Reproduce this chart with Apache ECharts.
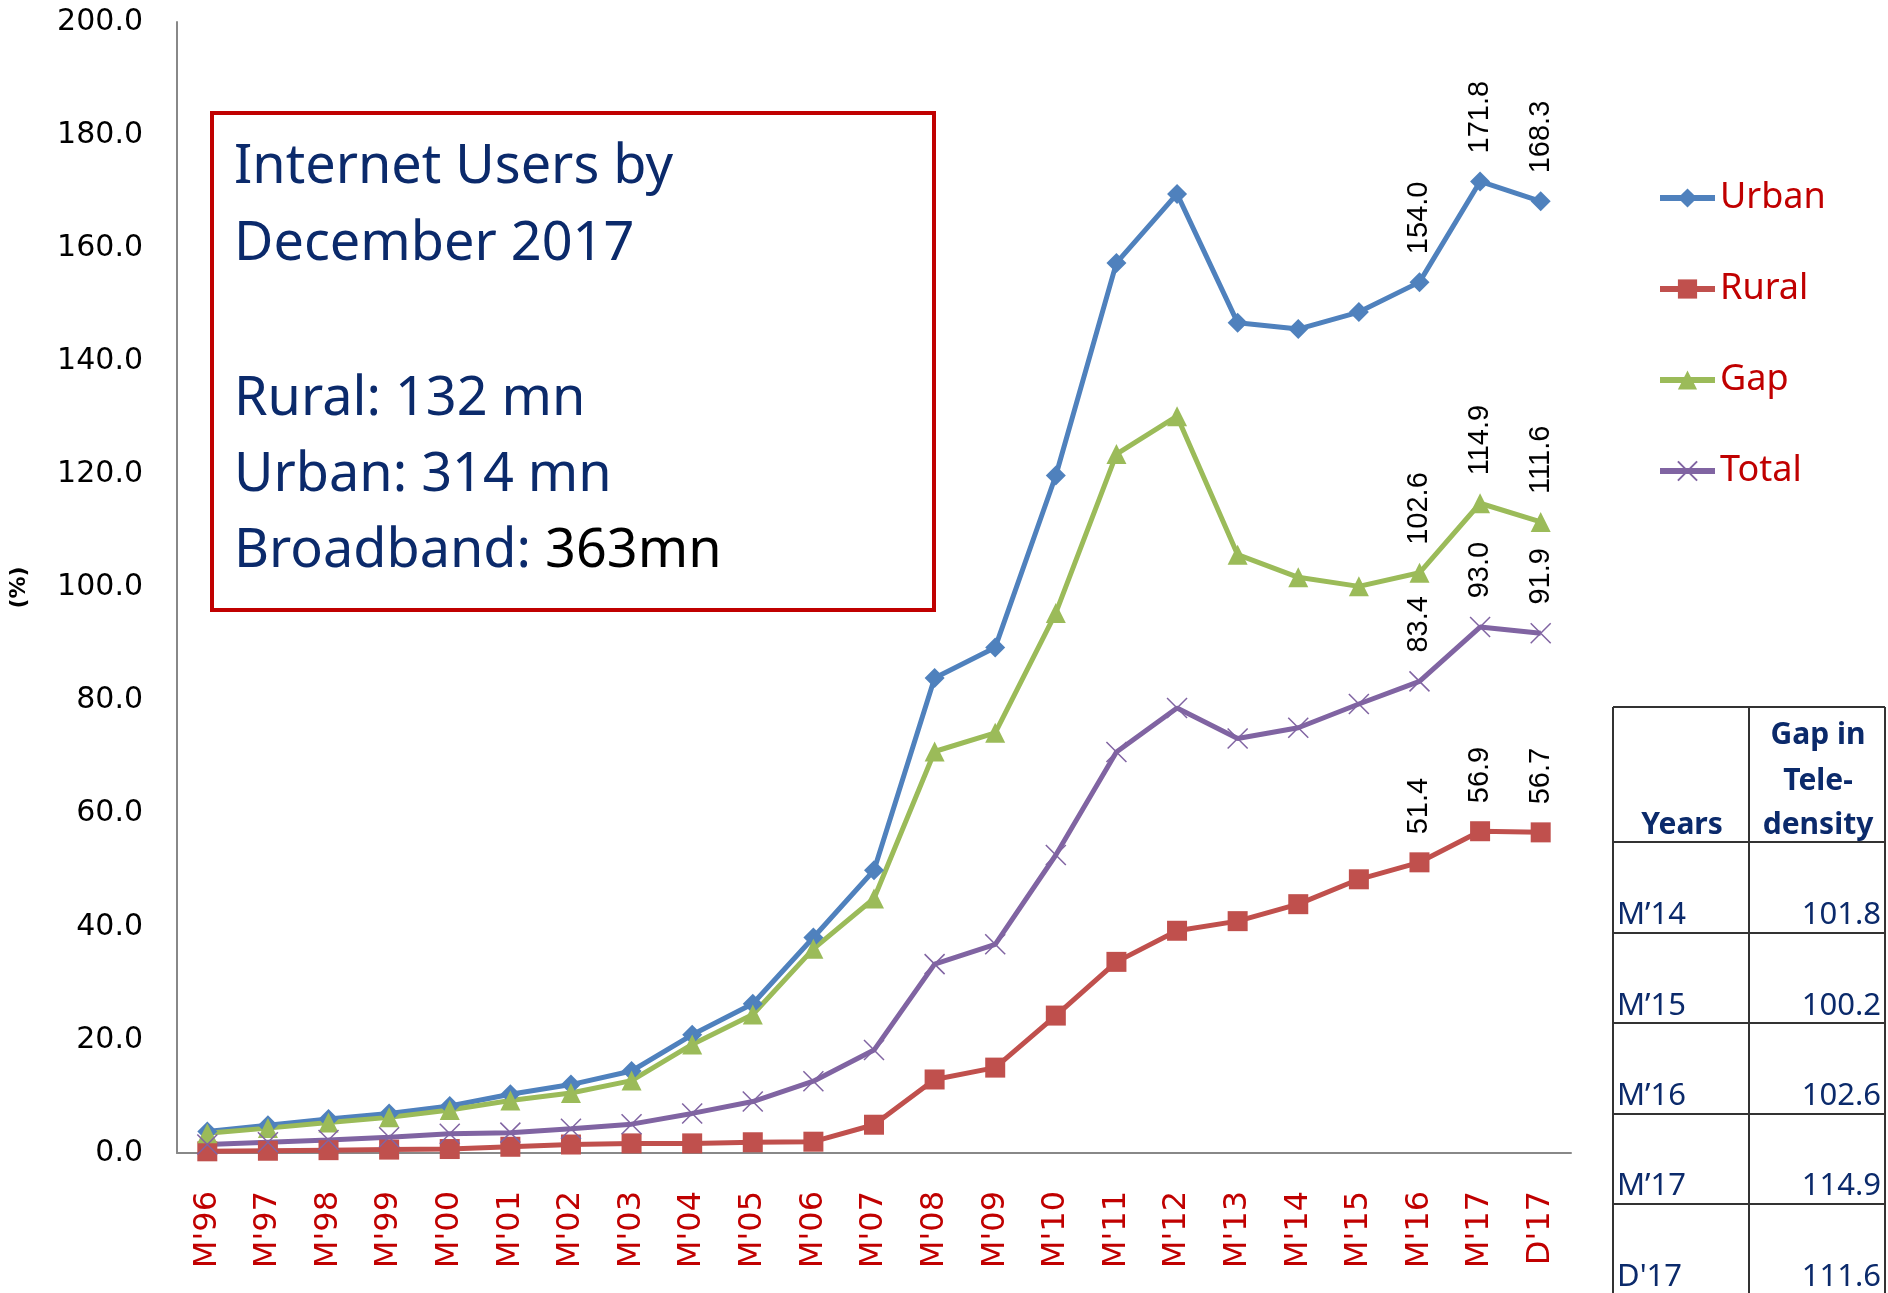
<!DOCTYPE html>
<html><head><meta charset="utf-8">
<script src="https://cdn.jsdelivr.net/npm/echarts@6/dist/echarts.min.js"></script>
<style>html,body{margin:0;padding:0;background:#fff}#c{width:1888px;height:1293px}</style>
</head><body><div id="c"></div>
<script>
const categories = ["M'96","M'97","M'98","M'99","M'00","M'01","M'02","M'03","M'04","M'05","M'06","M'07","M'08","M'09","M'10","M'11","M'12","M'13","M'14","M'15","M'16","M'17","D'17"];
const urban = [3.8,4.9,6.0,7.0,8.3,10.4,12.1,14.5,20.9,26.4,38.1,50.0,84.0,89.4,119.8,157.4,169.6,146.8,145.7,148.7,154.0,171.8,168.3];
const rural = [0.3,0.4,0.5,0.6,0.7,1.1,1.5,1.7,1.7,1.9,2.0,5.0,13.0,15.1,24.3,33.8,39.3,41.0,44.0,48.4,51.4,56.9,56.7];
const gap = [3.5,4.4,5.4,6.3,7.6,9.3,10.6,12.8,19.2,24.5,36.1,45.0,71.0,74.3,95.5,123.6,130.3,105.8,101.8,100.2,102.6,114.9,111.6];
const total = [1.5,1.9,2.3,2.8,3.4,3.6,4.3,5.1,7.0,9.1,12.7,18.2,33.4,36.9,52.7,70.9,78.7,73.3,75.2,79.4,83.4,93.0,91.9];
const tableYears = ["M\u201914","M\u201915","M\u201916","M\u201917","D'17"];
const tableGap = ["101.8","100.2","102.6","114.9","111.6"];
const boxLines = ["Internet Users by","December 2017","Rural: 132 mn","Urban: 314 mn"];

const labelFrom = 20;
function withLabels(arr){
  return arr.map((v,i)=> i>=labelFrom ? {value:v,label:{show:true}} : v);
}
const lbl = {show:false, rotate:90, position:'top', distance:18, align:'left', verticalAlign:'middle',
  color:'#000', fontFamily:'Liberation Sans', fontSize:29, formatter:p=>Number(p.value).toFixed(1)};

function mkSeries(name, data, color, symbol, size, extra){
  return Object.assign({
    name, type:'line', data:withLabels(data), color, symbol, symbolSize:size,
    lineStyle:{width:5, color}, itemStyle:{color}, label:lbl, z:3
  }, extra||{});
}

const navy = '#0B2A6B';
const graphics = [];
graphics.push({type:'rect', shape:{x:212,y:113,width:722,height:497}, style:{fill:'#fff', stroke:'#C00000', lineWidth:4}, z:10});
const boxY = [168,245,400,476];
boxLines.forEach((t,i)=>graphics.push({type:'text', x:234, y:boxY[i], style:{text:t, font:'54px "Noto Sans"', fill:navy, verticalAlign:'middle'}, z:11}));
graphics.push({type:'text', x:234, y:552, style:{text:'{a|Broadband: }{b|363mn}', verticalAlign:'middle',
  rich:{a:{font:'54px "Noto Sans"', fill:navy}, b:{font:'54px "Noto Sans"', fill:'#000'}}}, z:11});

// table
const tl=1613, tm=1749, tr=1885, tt=707;
const rowLines=[842,933,1023,1114,1204];
const lineStyle={stroke:'#333', lineWidth:2};
graphics.push({type:'line', shape:{x1:tl,y1:tt,x2:tr,y2:tt}, style:lineStyle});
[tl,tm,tr].forEach(x=>graphics.push({type:'line', shape:{x1:x,y1:tt,x2:x,y2:1293}, style:lineStyle}));
rowLines.forEach(y=>graphics.push({type:'line', shape:{x1:tl,y1:y,x2:tr,y2:y}, style:lineStyle}));
const hf='bold 30px "Noto Sans"';
graphics.push({type:'text', x:1682, y:825, style:{text:'Years', font:hf, fill:navy, align:'center', verticalAlign:'middle'}});
['Gap in','Tele-','density'].forEach((t,i)=>graphics.push({type:'text', x:1818, y:[735,781,825][i], style:{text:t, font:hf, fill:navy, align:'center', verticalAlign:'middle'}}));
const rowY=[915,1006,1096,1186,1277];
tableYears.forEach((t,i)=>{
  graphics.push({type:'text', x:1617, y:rowY[i], style:{text:t, font:'31px "Noto Sans"', fill:navy, verticalAlign:'middle'}});
  graphics.push({type:'text', x:1881, y:rowY[i], style:{text:tableGap[i], font:'31px "Noto Sans"', fill:navy, align:'right', verticalAlign:'middle'}});
});

const chart = echarts.init(document.getElementById('c'));
chart.setOption({
  animation:false,
  backgroundColor:'#fff',
  grid:{left:173, right:317, top:22, bottom:140, containLabel:false},
  legend:{
    orient:'vertical', left:1652, top:171, itemWidth:55, itemHeight:24, itemGap:47, itemTextGap:3,
    lineStyle:{width:6},
    textStyle:{color:'#C00000', fontSize:36, fontFamily:'Noto Sans', lineHeight:44},
    data:['Urban','Rural','Gap','Total']
  },
  xAxis:{
    type:'category', data:categories, boundaryGap:true,
    axisLine:{lineStyle:{color:'#888', width:2}}, axisTick:{show:false},
    axisLabel:{rotate:90, interval:0, color:'#C00000', fontSize:32, fontFamily:'DejaVu Sans', margin:38}
  },
  yAxis:{
    type:'value', min:0, max:200, interval:20,
    name:'(%)', nameLocation:'middle', nameRotate:90, nameGap:147,
    nameTextStyle:{fontSize:22, fontWeight:'bold', color:'#000', fontFamily:'DejaVu Sans'},
    axisLine:{show:true, lineStyle:{color:'#888', width:2}}, axisTick:{show:false}, splitLine:{show:false},
    axisLabel:{color:'#000', fontSize:30, fontFamily:'DejaVu Sans', margin:34, formatter:v=>v.toFixed(1)}
  },
  series:[
    mkSeries('Urban', urban, '#4F81BD', 'diamond', 20),
    mkSeries('Rural', rural, '#C0504D', 'rect', 20),
    mkSeries('Gap', gap, '#9BBB59', 'triangle', 20),
    mkSeries('Total', total, '#8064A2', 'path://M0,0L10,10M10,0L0,10', 20,
      {itemStyle:{color:'#8064A2', borderColor:'#8064A2', borderWidth:1.5}})
  ],
  graphic:graphics
});
</script></body></html>
